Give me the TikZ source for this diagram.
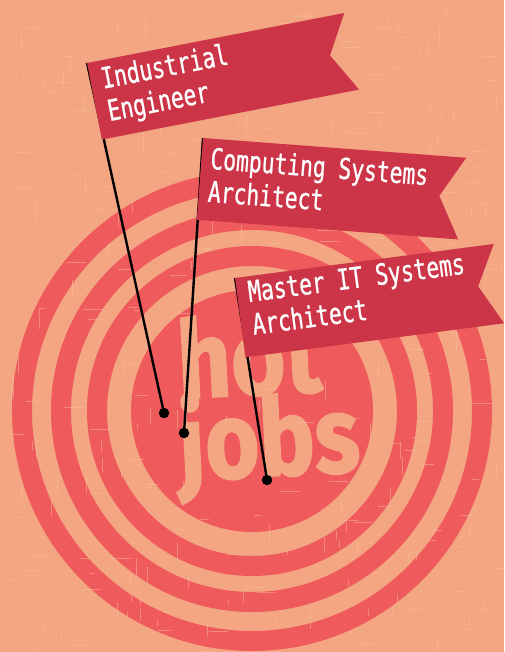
\documentclass[tikz,border=0pt]{standalone}
\usepackage{fontspec}
\usepackage{tikz}
\usetikzlibrary{positioning}
\newfontfamily\flagfont[FakeStretch=0.735, FakeBold=0.8]{DejaVu Sans Mono}
\newfontfamily\hotfont[FakeStretch=0.86, FakeBold=1.5]{Fira Sans}
\definecolor{peach}{HTML}{F4A582}
\definecolor{ringred}{HTML}{EF5A5D}
\definecolor{flagred}{HTML}{CC3447}
\definecolor{scratchpeach}{HTML}{F8C4A2}

\begin{document}
\begin{tikzpicture}[x=1pt, y=-1pt,
    flagbox/.style={fill=flagred},
    flagtext/.style={text=white, font=\flagfont\fontsize{29}{33}\selectfont, align=left, anchor=north west, inner sep=0pt, transform shape},
    hottext/.style={text=peach, font=\hotfont\bfseries\fontsize{108}{108}\selectfont, anchor=base, inner sep=0pt, rotate=3},
    pin/.style={fill=black, circle, minimum size=10.5pt, inner sep=0pt},
    pole/.style={line width=2.4pt},
    scratch/.style={scratchpeach, opacity=0.45, line width=0.7pt}]

    \fill[peach] (0,0) rectangle (504,652);
    \useasboundingbox (0,0) rectangle (504,652);

    % target
    \coordinate(O) at (252,411);
    \foreach \r in {230,191,155}
        \draw[ringred, line width=20pt] (O) circle[radius=\r];
    \fill[ringred] (O) circle[radius=121];

    \node(HOT)[hottext] at (251,395) {hot};
    \node(JOBS)[hottext] at (271,476) {jobs};

    % worn paper
    \pgfmathsetseed{17}
    \foreach \i in {1,...,140} {
        \pgfmathsetmacro{\px}{504*rnd}
        \pgfmathsetmacro{\py}{652*rnd}
        \pgfmathsetmacro{\len}{5+16*rnd}
        \draw[scratch] (\px,\py) -- ++(\len,0);
        \draw[scratch] (\py*0.77,\px*1.29) -- ++(0,\len);
    }

    % flag corners and pins
    \coordinate(F1) at (87,63);
    \coordinate(F2) at (203,138);
    \coordinate(F3) at (235,278);
    \node(D1)[pin] at (164,413) {};
    \node(D2)[pin] at (184,433) {};
    \node(D3)[pin] at (267,480) {};

    \draw[pole] (F1) -- (D1.center);
    \draw[pole] (F2) -- (D2.center);
    \draw[pole] (F3) -- (D3.center);

    \begin{scope}[shift={(F1)}, rotate=11]
        \fill[flagbox] (0,0) -- (262,0) -- (240,39) -- (262,78) -- (0,78) -- cycle;
        \node(T1)[flagtext] at (11,6) {Industrial\\Engineer};
    \end{scope}
    \begin{scope}[shift={(F2)}, rotate=-4.3]
        \fill[flagbox] (0,0) -- (264,0) -- (240,40) -- (262,82) -- (0,82) -- cycle;
        \node(T2)[flagtext] at (9,8) {Computing Systems\\Architect};
    \end{scope}
    \begin{scope}[shift={(F3)}, rotate=7.5]
        \fill[flagbox] (0,0) -- (261,0) -- (240,40) -- (261,80) -- (0,80) -- cycle;
        \node(T3)[flagtext] at (11,4) {Master IT Systems\\Architect};
    \end{scope}

\end{tikzpicture}
\end{document}
